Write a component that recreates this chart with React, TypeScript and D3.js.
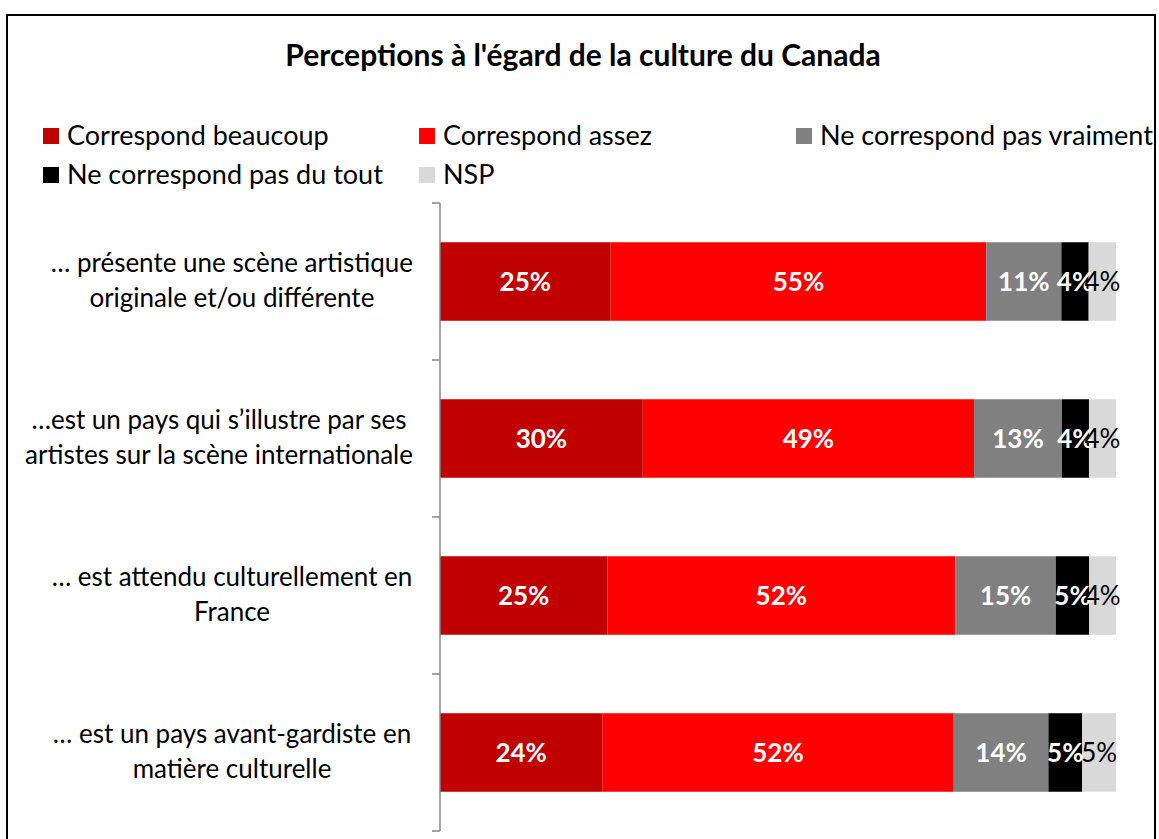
import React, { useEffect, useRef } from "react";
import * as d3 from "d3";

const title = "Perceptions à l'égard de la culture du Canada";

const categories = [
  ["… présente une scène artistique", "originale et/ou différente"],
  ["…est un pays qui s’illustre par ses", "artistes sur la scène internationale"],
  ["… est attendu culturellement en", "France"],
  ["… est un pays avant-gardiste en", "matière culturelle"],
];

const seriesNames = [
  "Correspond beaucoup",
  "Correspond assez",
  "Ne correspond pas vraiment",
  "Ne correspond pas du tout",
  "NSP",
];
const seriesColors = ["#C00000", "#FF0000", "#808080", "#000000", "#D9D9D9"];
const labelColors = ["#FFFFFF", "#FFFFFF", "#FFFFFF", "#FFFFFF", "#000000"];

const beaucoup = [25, 30, 25, 24];
const assez = [55, 49, 52, 52];
const pasVraiment = [11, 13, 15, 14];
const pasDuTout = [4, 4, 5, 5];
const nsp = [4, 4, 4, 5];

const FONT = "Lato, 'Open Sans', sans-serif";

const App = () => {
  const ref = useRef<SVGSVGElement | null>(null);

  useEffect(() => {
    document.body.style.margin = "0";
    const svg = d3.select(ref.current!);
    svg.selectAll("*").remove();

    const rows = categories.map((c, i) => ({
      id: String(i),
      s0: beaucoup[i],
      s1: assez[i],
      s2: pasVraiment[i],
      s3: pasDuTout[i],
      s4: nsp[i],
    }));
    const keys = ["s0", "s1", "s2", "s3", "s4"];
    const stacked = d3.stack<any>().keys(keys).offset(d3.stackOffsetExpand)(rows);

    const x = d3.scaleLinear().domain([0, 1]).range([440, 1116]);
    const y = d3
      .scaleBand()
      .domain(rows.map((r) => r.id))
      .range([203, 831])
      .paddingInner(0.5)
      .paddingOuter(0.25);

    // outer frame
    svg.append("rect")
      .attr("x", 7).attr("y", 15).attr("width", 1148).attr("height", 840)
      .attr("fill", "#fff").attr("stroke", "#000").attr("stroke-width", 2);

    svg.append("text")
      .attr("x", 583).attr("y", 66)
      .attr("text-anchor", "middle")
      .attr("font-family", FONT).attr("font-weight", "bold").attr("font-size", 30)
      .text(title);

    // legend
    const legendPos = [
      [43, 136], [419, 136], [796, 136],
      [43, 175], [419, 175],
    ];
    const lg = svg.append("g").attr("font-family", FONT).attr("font-size", 27);
    seriesNames.forEach((name, i) => {
      const [lx, ly] = legendPos[i];
      lg.append("rect").attr("x", lx).attr("y", ly - 8).attr("width", 16).attr("height", 16)
        .attr("fill", seriesColors[i]);
      lg.append("text").attr("x", lx + 24).attr("y", ly + 9).text(name);
    });

    // bars
    stacked.forEach((layer, si) => {
      const g = svg.append("g");
      g.selectAll("rect").data(layer).join("rect")
        .attr("x", (d) => x(d[0]))
        .attr("y", (d) => y(d.data.id)!)
        .attr("width", (d) => x(d[1]) - x(d[0]))
        .attr("height", y.bandwidth())
        .attr("fill", seriesColors[si]);
    });
    stacked.forEach((layer, si) => {
      const g = svg.append("g");
      g.selectAll("text").data(layer).join("text")
        .attr("x", (d) => (x(d[0]) + x(d[1])) / 2)
        .attr("y", (d) => y(d.data.id)! + y.bandwidth() / 2)
        .attr("dy", "0.35em")
        .attr("text-anchor", "middle")
        .attr("font-family", FONT)
        .attr("font-size", 26)
        .attr("font-weight", si < 4 ? "bold" : "normal")
        .attr("fill", labelColors[si])
        .text((d) => d.data[keys[si]] + "%");
    });

    // axis
    const axis = svg.append("g").attr("stroke", "#868686").attr("stroke-width", 1.5);
    axis.append("line").attr("x1", 440).attr("x2", 440).attr("y1", 203).attr("y2", 831);
    const bounds = rows.map((r) => y(r.id)! - (y.step() * y.paddingInner()) / 2);
    bounds.push(831);
    axis.selectAll("line.tick").data(bounds).join("line")
      .attr("class", "tick")
      .attr("x1", 432).attr("x2", 440)
      .attr("y1", (d) => d).attr("y2", (d) => d);

    // category labels
    categories.forEach((lines, i) => {
      const cy = y(String(i))! + y.bandwidth() / 2;
      const g = svg.append("g")
        .attr("font-family", FONT).attr("font-size", 26).attr("text-anchor", "middle");
      const texts = lines.map((t, li) =>
        g.append("text").attr("x", 0).attr("y", cy - 10 + li * 35).text(t)
      );
      const w = d3.max(texts, (t) => (t.node() as SVGTextElement).getComputedTextLength())!;
      const cx = Math.min(232, 413 - w / 2);
      g.attr("transform", `translate(${cx},0)`);
    });
  }, []);

  return <svg ref={ref} width={1159} height={839} style={{ display: "block" }} />;
};

export default App;
